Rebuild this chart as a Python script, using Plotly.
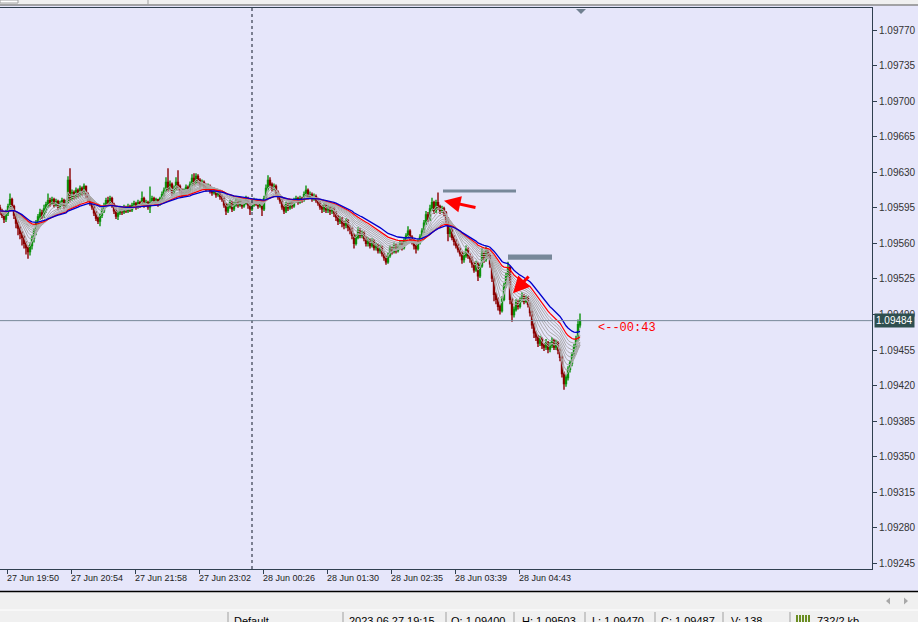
import plotly.graph_objects as go

# ---------------- data (prices in points above 1.09000) ----------------
opens = [595,592,588,584,590,596,603,596,588,580,575,570,566,560,556,552,558,565,572,580,586,590,588,594,598,602,
         600,603,598,601,596,599,602,597,600,622,604,610,606,612,608,614,610,616,608,604,600,596,590,585,582,
         588,592,597,602,600,604,598,592,587,590,594,591,595,592,596,593,597,599,596,600,598,604,598,600,596,
         600,604,600,603,599,604,608,612,620,614,618,610,614,620,616,612,608,611,615,612,618,624,620,626,622,
         618,620,617,614,616,612,610,612,608,610,606,604,598,592,596,600,594,598,602,598,601,597,600,604,598,
         594,598,602,600,597,601,594,604,614,622,618,614,616,610,606,602,596,592,598,595,600,597,602,604,601,
         604,603,608,612,606,608,604,606,603,600,596,594,597,593,595,592,594,590,586,582,584,580,578,582,576,
         574,568,560,566,572,568,570,565,560,563,558,562,556,558,553,556,550,546,542,548,555,552,558,553,556,
         560,556,562,567,572,566,562,558,555,561,566,572,580,588,584,594,600,592,600,596,592,594,590,584,570,
         574,566,562,558,554,550,544,548,554,548,545,540,534,540,528,538,550,544,552,548,540,526,510,505,498,
         494,505,518,528,536,505,490,495,502,498,504,508,503,506,500,492,480,472,468,462,466,460,458,462,456,
         460,464,458,462,455,448,432,422,428,436,442,450,458,466,480]
highs = [598,594,590,593,599,609,605,598,590,583,577,572,568,562,558,561,568,575,583,589,594,593,598,601,609,605,
         606,605,604,603,602,605,604,603,626,634,613,612,615,614,617,616,619,617,610,606,602,598,592,587,590,
         595,600,605,606,607,606,600,594,592,597,596,598,597,599,598,600,602,601,603,602,611,606,603,602,616,
         607,606,605,604,606,611,615,625,634,622,620,617,625,632,618,614,614,618,617,621,628,629,629,628,624,
         623,622,619,619,618,614,615,614,613,612,608,606,600,599,603,602,601,605,604,604,603,603,607,606,600,
         601,605,604,602,604,603,607,618,627,625,620,619,618,612,608,604,598,601,600,603,602,605,607,606,607,
         606,611,617,614,611,610,609,608,605,602,598,600,599,598,597,597,596,592,588,587,586,582,585,584,578,
         576,570,569,576,575,573,572,567,566,565,565,564,561,560,559,558,552,548,551,558,557,561,560,559,563,
         562,565,570,577,574,568,564,560,564,569,575,583,592,591,598,605,602,603,610,598,597,596,592,586,577,
         576,568,564,560,556,552,551,558,556,550,547,542,543,542,541,556,552,557,554,550,542,528,512,507,500,
         508,521,531,542,538,507,498,505,504,507,512,510,509,508,502,494,482,474,470,469,468,462,466,464,463,
         468,466,465,464,457,450,434,431,439,445,453,461,469,485,491]
lows = [588,585,580,581,587,593,592,584,575,568,564,558,555,549,545,548,554,561,568,576,583,584,585,590,595,596,
        598,595,596,593,594,597,594,595,599,601,602,603,604,605,606,607,608,605,601,597,593,587,582,579,577,
        585,590,595,597,598,595,589,584,583,588,588,589,590,590,591,591,595,593,594,595,596,595,596,593,590,
        598,597,598,596,597,602,606,610,611,612,607,608,612,613,609,605,606,609,609,610,616,617,618,619,615,
        616,614,611,612,609,607,608,605,606,603,601,595,588,590,594,591,592,596,595,596,594,595,598,594,588,
        592,596,597,594,595,587,592,602,612,615,611,612,607,603,599,593,589,590,592,593,594,595,600,598,599,
        600,601,606,603,604,601,602,600,597,593,590,591,590,590,588,589,586,582,578,579,576,574,575,572,569,
        564,555,558,564,565,565,562,557,557,555,556,553,553,550,550,547,543,539,540,546,549,550,550,551,554,
        553,554,560,565,563,559,554,550,553,559,564,570,578,581,582,592,589,590,593,589,590,587,580,562,566,
        563,558,555,551,547,540,541,546,545,541,536,531,532,523,526,536,541,542,545,536,522,503,500,494,490,
        492,503,516,526,500,483,487,493,495,496,502,500,501,497,488,476,467,464,458,459,456,454,455,452,453,
        457,455,455,451,444,428,416,419,425,433,439,447,455,463,477]
closes = [592,588,584,590,596,603,596,588,580,575,570,566,560,556,552,558,565,572,580,586,590,588,594,598,602,600,
          603,598,601,596,599,602,597,600,622,604,610,606,612,608,614,610,616,608,604,600,596,590,585,582,588,
          592,597,602,600,604,598,592,587,590,594,591,595,592,596,593,597,599,596,600,598,604,598,600,596,600,
          604,600,603,599,604,608,612,620,614,618,610,614,620,616,612,608,611,615,612,618,624,620,626,622,618,
          620,617,614,616,612,610,612,608,610,606,604,598,592,596,600,594,598,602,598,601,597,600,604,598,594,
          598,602,600,597,601,594,604,614,622,618,614,616,610,606,602,596,592,598,595,600,597,602,604,601,604,
          603,608,612,606,608,604,606,603,600,596,594,597,593,595,592,594,590,586,582,584,580,578,582,576,574,
          568,560,566,572,568,570,565,560,563,558,562,556,558,553,556,550,546,542,548,555,552,558,553,556,560,
          556,562,567,572,566,562,558,555,561,566,572,580,588,584,594,600,592,600,596,592,594,590,584,570,574,
          566,562,558,554,550,544,548,554,548,545,540,534,540,528,538,550,544,552,548,540,526,510,505,498,494,
          505,518,528,536,505,490,495,502,498,504,508,503,506,500,492,480,472,468,462,466,460,458,462,456,460,
          464,458,462,455,448,432,422,428,436,442,450,458,466,480,484]
bar_minute = list(range(0, 581, 2))          # bar time index (minutes from first bar)

x_tick_minutes = [7, 71, 135, 199, 263, 327, 391, 455, 519]
x_tick_labels = ["27 Jun 19:50", "27 Jun 20:54", "27 Jun 21:58", "27 Jun 23:02", "28 Jun 00:26",
                 "28 Jun 01:30", "28 Jun 02:35", "28 Jun 03:39", "28 Jun 04:43"]
y_tick_labels = ["1.09245", "1.09280", "1.09315", "1.09350", "1.09385", "1.09420", "1.09455", "1.09490",
                 "1.09525", "1.09560", "1.09595", "1.09630", "1.09665", "1.09700", "1.09735", "1.09770"]
bid_price = 1.09484
day_separator_minute = 252
countdown = "<--00:43"

gray_periods = [3, 5, 8, 11, 14, 17, 20, 23, 26]
red_period = 30
blue_period = 37

status_items = [(232, "Default"), (347, "2023.06.27 19:15"), (449, "O: 1.09400"), (520, "H: 1.09503"),
                (590, "L: 1.09470"), (659, "C: 1.09487"), (729, "V: 138"), (815, "732/2 kb")]
status_separators = [228, 343, 446, 514, 585, 655, 723, 790]

# ---------------- helpers ----------------
def price(v):
    return round(1.09 + v * 1e-5, 5)

O = [price(v) for v in opens]
H = [price(v) for v in highs]
L = [price(v) for v in lows]
C = [price(v) for v in closes]

def ema(vals, n):
    a = 2.0 / (n + 1)
    out, e = [], vals[0]
    for v in vals:
        e = e + a * (v - e)
        out.append(e)
    return out

W, HGT = 918, 622
ML, MR, MT, MB = 0, 46, 8, 53
PW, PH = W - ML - MR, HGT - MT - MB
Y0, Y1 = 1.0923959, 1.0979165

def xp(px):
    return (px - ML) / PW

def yp(py):
    return 1 - (py - MT) / PH

LAV = "#E6E6FA"
AX = "#2F3F4F"

fig = go.Figure()

fig.add_trace(go.Candlestick(
    x=bar_minute, open=O, high=H, low=L, close=C,
    increasing=dict(line=dict(color="#0C920C", width=1.4), fillcolor="#0C920C"),
    decreasing=dict(line=dict(color="#8B0000", width=1.4), fillcolor="#8B0000"),
    whiskerwidth=0, showlegend=False, hoverinfo="skip"))

for n in gray_periods:
    fig.add_trace(go.Scatter(x=bar_minute, y=ema(C, n), mode="lines",
                             line=dict(color="#ABABAB", width=1), hoverinfo="skip", showlegend=False))
fig.add_trace(go.Scatter(x=bar_minute, y=ema(C, red_period), mode="lines",
                         line=dict(color="#FF0000", width=1.2), hoverinfo="skip", showlegend=False))
fig.add_trace(go.Scatter(x=bar_minute, y=ema(C, blue_period), mode="lines",
                         line=dict(color="#0000CD", width=1.3), hoverinfo="skip", showlegend=False))

shapes = []
# chrome: top strip
shapes.append(dict(type="rect", xref="paper", yref="paper", x0=xp(0), x1=xp(W), y0=yp(0), y1=yp(5),
                   fillcolor="#F0F0F0", line=dict(width=0), layer="above"))
shapes.append(dict(type="line", xref="paper", yref="paper", x0=xp(0), x1=xp(W), y0=yp(5), y1=yp(5),
                   line=dict(color="#8A8A8A", width=1.5), layer="above"))
shapes.append(dict(type="line", xref="paper", yref="paper", x0=xp(148), x1=xp(148), y0=yp(0), y1=yp(4.5),
                   line=dict(color="#A0A0A0", width=1), layer="above"))
shapes.append(dict(type="rect", xref="paper", yref="paper", x0=xp(0), x1=xp(18), y0=yp(0), y1=yp(3),
                   fillcolor="#FFFFFF", line=dict(color="#A0A0A0", width=1), layer="above"))
# chrome: bottom scroll + status bar
shapes.append(dict(type="rect", xref="paper", yref="paper", x0=xp(0), x1=xp(W), y0=yp(591.5), y1=yp(HGT),
                   fillcolor="#F0F0F0", line=dict(width=0), layer="above"))
shapes.append(dict(type="line", xref="paper", yref="paper", x0=xp(0), x1=xp(W), y0=yp(591.5), y1=yp(591.5),
                   line=dict(color="#000000", width=1.5), layer="above"))
shapes.append(dict(type="line", xref="paper", yref="paper", x0=xp(0), x1=xp(W), y0=yp(610), y1=yp(610),
                   line=dict(color="#FFFFFF", width=1), layer="above"))
for sx in status_separators:
    shapes.append(dict(type="line", xref="paper", yref="paper", x0=xp(sx), x1=xp(sx), y0=yp(612), y1=yp(HGT),
                       line=dict(color="#A0A0A0", width=1), layer="above"))
for i in range(5):
    bx = 796 + i * 3
    shapes.append(dict(type="rect", xref="paper", yref="paper", x0=xp(bx), x1=xp(bx + 2), y0=yp(615), y1=yp(HGT),
                       fillcolor="#6B8E23", line=dict(width=0), layer="above"))
# scroll arrows
shapes.append(dict(type="path", xref="paper", yref="paper",
                   path=f"M {xp(886)} {yp(601)} L {xp(890)} {yp(597.5)} L {xp(890)} {yp(604.5)} Z",
                   fillcolor="#A8A8A8", line=dict(width=0), layer="above"))
shapes.append(dict(type="path", xref="paper", yref="paper",
                   path=f"M {xp(908)} {yp(601)} L {xp(904)} {yp(597.5)} L {xp(904)} {yp(604.5)} Z",
                   fillcolor="#A8A8A8", line=dict(width=0), layer="above"))
# day separator
shapes.append(dict(type="line", xref="x", yref="paper", x0=day_separator_minute, x1=day_separator_minute,
                   y0=0, y1=1, line=dict(color="#101828", width=1, dash="3px,3px"), layer="above"))
# bid line
shapes.append(dict(type="line", xref="paper", yref="y", x0=0, x1=1, y0=bid_price, y1=bid_price,
                   line=dict(color="#778899", width=1), layer="above"))
# chart shift marker
shapes.append(dict(type="path", xref="paper", yref="paper",
                   path=f"M {xp(576)} {yp(9)} L {xp(586)} {yp(9)} L {xp(581)} {yp(14)} Z",
                   fillcolor="#708090", line=dict(width=0), layer="above"))
# drawn level bars
shapes.append(dict(type="rect", xref="x", yref="y", x0=443, x1=516, y0=1.09610, y1=1.09613,
                   fillcolor="#778899", line=dict(width=0), layer="above"))
shapes.append(dict(type="rect", xref="x", yref="y", x0=508, x1=552, y0=1.09544, y1=1.09549,
                   fillcolor="#778899", line=dict(width=0), layer="above"))

annotations = []
for tm, lab in zip(x_tick_minutes, x_tick_labels):
    annotations.append(dict(x=tm - 2, y=yp(578), xref="x", yref="paper", text=lab, showarrow=False,
                            xanchor="left", yanchor="middle",
                            font=dict(family="Liberation Sans", size=9, color="#222222")))
for sx, txt in status_items:
    annotations.append(dict(x=xp(sx), y=yp(613), xref="paper", yref="paper", text=txt, showarrow=False,
                            xanchor="left", yanchor="top",
                            font=dict(family="Liberation Sans", size=11, color="#000000")))
# price label box
annotations.append(dict(x=xp(874), y=bid_price, xref="paper", yref="y", text="1.09484", showarrow=False,
                        xanchor="left", yanchor="middle", bgcolor="#2F4F4F", borderpad=1,
                        font=dict(family="Liberation Sans", size=10, color="#FFFFFF")))
# countdown
annotations.append(dict(x=596, y=bid_price - 0.00007, xref="x", yref="y", text=countdown, showarrow=False,
                        xanchor="left", yanchor="middle",
                        font=dict(family="Liberation Mono", size=12, color="#FF0000")))
# red arrows
annotations.append(dict(x=444, y=1.09602, ax=477, ay=1.09595, xref="x", yref="y", axref="x", ayref="y",
                        text="", showarrow=True, arrowhead=2, arrowsize=1.1, arrowwidth=3, arrowcolor="#FF0000"))
annotations.append(dict(x=513, y=1.09511, ax=530, ay=1.09529, xref="x", yref="y", axref="x", ayref="y",
                        text="", showarrow=True, arrowhead=2, arrowsize=1.1, arrowwidth=3, arrowcolor="#FF0000"))

y_tick_vals = [float(t) for t in y_tick_labels]

fig.update_layout(
    width=W, height=HGT, margin=dict(l=ML, r=MR, t=MT, b=MB, pad=0),
    paper_bgcolor=LAV, plot_bgcolor=LAV, showlegend=False,
    shapes=shapes, annotations=annotations, hovermode=False,
)
fig.update_xaxes(range=[0, PW], showgrid=False, zeroline=False, showline=True, linecolor=AX, linewidth=1,
                 mirror=True, ticks="outside", ticklen=4, tickcolor=AX, tickvals=x_tick_minutes,
                 showticklabels=False, rangeslider_visible=False, fixedrange=True)
fig.update_yaxes(range=[Y0, Y1], side="right", showgrid=False, zeroline=False, showline=True, linecolor=AX,
                 linewidth=1, mirror=True, ticks="outside", ticklen=4, tickcolor=AX, tickvals=y_tick_vals,
                 ticktext=y_tick_labels, tickfont=dict(family="Liberation Sans", size=10, color="#333333"),
                 fixedrange=True)

fig.write_html("out.html", config={"displayModeBar": False},
               post_script="document.body.style.margin='0';document.body.style.overflow='hidden';")
